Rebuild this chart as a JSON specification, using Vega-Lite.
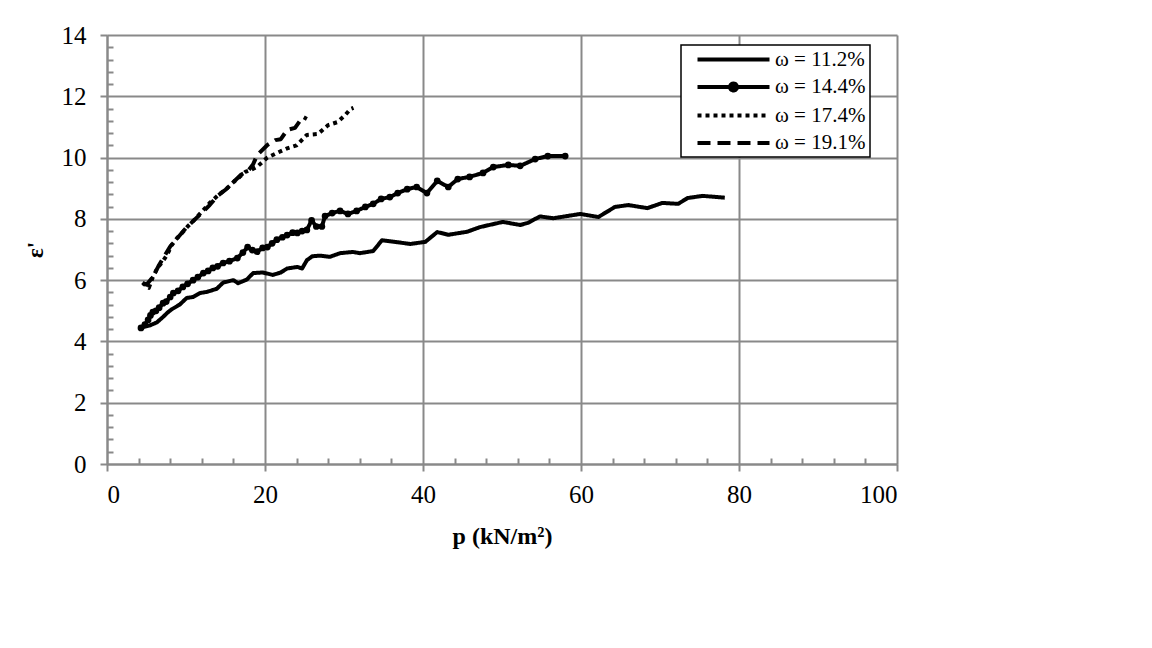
{
  "$schema": "https://vega.github.io/schema/vega-lite/v6.json",
  "width": 790,
  "height": 429,
  "autosize": {"type": "none"},
  "padding": {"left": 107, "top": 35, "right": 255, "bottom": 184},
  "background": "white",
  "config": {
    "view": {"stroke": null},
    "font": "Liberation Serif",
    "axis": {
      "labelFont": "Liberation Serif",
      "labelFontSize": 25,
      "labelColor": "black",
      "titleFont": "Liberation Serif",
      "titleColor": "black",
      "domainColor": "#898989",
      "domainWidth": 2,
      "tickColor": "#898989",
      "tickWidth": 2,
      "gridColor": "#898989",
      "gridWidth": 2
    }
  },
  "data": {
    "values": [
      {"series": "ω = 11.2%", "p": 4.6, "e": 4.47},
      {"series": "ω = 11.2%", "p": 5.4, "e": 4.52},
      {"series": "ω = 11.2%", "p": 6.3, "e": 4.62},
      {"series": "ω = 11.2%", "p": 7.1, "e": 4.8},
      {"series": "ω = 11.2%", "p": 7.7, "e": 4.95},
      {"series": "ω = 11.2%", "p": 8.2, "e": 5.05},
      {"series": "ω = 11.2%", "p": 9.2, "e": 5.2},
      {"series": "ω = 11.2%", "p": 9.6, "e": 5.3},
      {"series": "ω = 11.2%", "p": 10.1, "e": 5.42},
      {"series": "ω = 11.2%", "p": 10.9, "e": 5.45},
      {"series": "ω = 11.2%", "p": 11.8, "e": 5.58},
      {"series": "ω = 11.2%", "p": 12.7, "e": 5.62},
      {"series": "ω = 11.2%", "p": 13.9, "e": 5.72},
      {"series": "ω = 11.2%", "p": 14.7, "e": 5.92},
      {"series": "ω = 11.2%", "p": 16.0, "e": 6.0},
      {"series": "ω = 11.2%", "p": 16.6, "e": 5.9},
      {"series": "ω = 11.2%", "p": 17.7, "e": 6.02},
      {"series": "ω = 11.2%", "p": 18.5, "e": 6.23},
      {"series": "ω = 11.2%", "p": 19.7, "e": 6.25},
      {"series": "ω = 11.2%", "p": 21.0, "e": 6.17},
      {"series": "ω = 11.2%", "p": 22.0, "e": 6.25},
      {"series": "ω = 11.2%", "p": 22.8, "e": 6.38},
      {"series": "ω = 11.2%", "p": 24.1, "e": 6.43},
      {"series": "ω = 11.2%", "p": 24.7, "e": 6.38},
      {"series": "ω = 11.2%", "p": 25.3, "e": 6.65},
      {"series": "ω = 11.2%", "p": 26.0, "e": 6.78},
      {"series": "ω = 11.2%", "p": 27.0, "e": 6.8},
      {"series": "ω = 11.2%", "p": 28.2, "e": 6.76},
      {"series": "ω = 11.2%", "p": 29.5, "e": 6.88},
      {"series": "ω = 11.2%", "p": 31.1, "e": 6.92},
      {"series": "ω = 11.2%", "p": 32.0, "e": 6.88},
      {"series": "ω = 11.2%", "p": 33.7, "e": 6.95},
      {"series": "ω = 11.2%", "p": 34.8, "e": 7.3},
      {"series": "ω = 11.2%", "p": 36.7, "e": 7.24},
      {"series": "ω = 11.2%", "p": 38.4, "e": 7.18},
      {"series": "ω = 11.2%", "p": 40.3, "e": 7.25},
      {"series": "ω = 11.2%", "p": 41.8, "e": 7.57},
      {"series": "ω = 11.2%", "p": 43.2, "e": 7.48},
      {"series": "ω = 11.2%", "p": 45.6, "e": 7.58},
      {"series": "ω = 11.2%", "p": 47.2, "e": 7.73},
      {"series": "ω = 11.2%", "p": 50.1, "e": 7.9},
      {"series": "ω = 11.2%", "p": 52.3, "e": 7.8},
      {"series": "ω = 11.2%", "p": 53.3, "e": 7.87},
      {"series": "ω = 11.2%", "p": 54.8, "e": 8.08},
      {"series": "ω = 11.2%", "p": 56.5, "e": 8.02},
      {"series": "ω = 11.2%", "p": 59.9, "e": 8.16},
      {"series": "ω = 11.2%", "p": 62.2, "e": 8.06},
      {"series": "ω = 11.2%", "p": 64.3, "e": 8.39},
      {"series": "ω = 11.2%", "p": 66.0, "e": 8.45},
      {"series": "ω = 11.2%", "p": 68.4, "e": 8.35},
      {"series": "ω = 11.2%", "p": 70.3, "e": 8.52},
      {"series": "ω = 11.2%", "p": 72.3, "e": 8.49},
      {"series": "ω = 11.2%", "p": 73.5, "e": 8.68},
      {"series": "ω = 11.2%", "p": 75.4, "e": 8.75},
      {"series": "ω = 11.2%", "p": 78.2, "e": 8.69},

      {"series": "ω = 14.4%", "p": 4.3, "e": 4.44},
      {"series": "ω = 14.4%", "p": 4.8, "e": 4.55},
      {"series": "ω = 14.4%", "p": 5.2, "e": 4.7},
      {"series": "ω = 14.4%", "p": 5.5, "e": 4.85},
      {"series": "ω = 14.4%", "p": 5.8, "e": 4.96},
      {"series": "ω = 14.4%", "p": 6.2, "e": 5.0},
      {"series": "ω = 14.4%", "p": 6.6, "e": 5.1},
      {"series": "ω = 14.4%", "p": 7.1, "e": 5.25},
      {"series": "ω = 14.4%", "p": 7.5, "e": 5.3},
      {"series": "ω = 14.4%", "p": 8.0, "e": 5.45},
      {"series": "ω = 14.4%", "p": 8.4, "e": 5.58},
      {"series": "ω = 14.4%", "p": 9.0, "e": 5.65},
      {"series": "ω = 14.4%", "p": 9.6, "e": 5.78},
      {"series": "ω = 14.4%", "p": 10.2, "e": 5.88},
      {"series": "ω = 14.4%", "p": 10.9, "e": 6.0},
      {"series": "ω = 14.4%", "p": 11.5, "e": 6.1},
      {"series": "ω = 14.4%", "p": 12.2, "e": 6.23},
      {"series": "ω = 14.4%", "p": 12.8, "e": 6.3},
      {"series": "ω = 14.4%", "p": 13.4, "e": 6.4},
      {"series": "ω = 14.4%", "p": 14.0, "e": 6.45},
      {"series": "ω = 14.4%", "p": 14.7, "e": 6.56},
      {"series": "ω = 14.4%", "p": 15.5, "e": 6.62},
      {"series": "ω = 14.4%", "p": 16.5, "e": 6.72},
      {"series": "ω = 14.4%", "p": 17.2, "e": 6.9},
      {"series": "ω = 14.4%", "p": 17.8, "e": 7.08},
      {"series": "ω = 14.4%", "p": 18.4, "e": 6.98},
      {"series": "ω = 14.4%", "p": 19.0, "e": 6.93},
      {"series": "ω = 14.4%", "p": 19.7, "e": 7.05},
      {"series": "ω = 14.4%", "p": 20.3, "e": 7.08},
      {"series": "ω = 14.4%", "p": 20.9, "e": 7.2},
      {"series": "ω = 14.4%", "p": 21.5, "e": 7.32},
      {"series": "ω = 14.4%", "p": 22.2, "e": 7.4},
      {"series": "ω = 14.4%", "p": 22.8, "e": 7.47},
      {"series": "ω = 14.4%", "p": 23.5, "e": 7.55},
      {"series": "ω = 14.4%", "p": 24.1, "e": 7.54},
      {"series": "ω = 14.4%", "p": 24.7, "e": 7.6},
      {"series": "ω = 14.4%", "p": 25.3, "e": 7.64},
      {"series": "ω = 14.4%", "p": 25.9, "e": 7.95},
      {"series": "ω = 14.4%", "p": 26.5, "e": 7.75},
      {"series": "ω = 14.4%", "p": 27.2, "e": 7.75},
      {"series": "ω = 14.4%", "p": 27.6, "e": 8.09},
      {"series": "ω = 14.4%", "p": 28.5, "e": 8.19},
      {"series": "ω = 14.4%", "p": 29.5, "e": 8.26},
      {"series": "ω = 14.4%", "p": 30.5, "e": 8.16},
      {"series": "ω = 14.4%", "p": 31.6, "e": 8.26},
      {"series": "ω = 14.4%", "p": 32.7, "e": 8.39},
      {"series": "ω = 14.4%", "p": 33.7, "e": 8.49},
      {"series": "ω = 14.4%", "p": 34.7, "e": 8.65},
      {"series": "ω = 14.4%", "p": 35.8, "e": 8.71},
      {"series": "ω = 14.4%", "p": 36.8, "e": 8.84},
      {"series": "ω = 14.4%", "p": 38.0, "e": 8.97},
      {"series": "ω = 14.4%", "p": 39.2, "e": 9.04},
      {"series": "ω = 14.4%", "p": 40.5, "e": 8.84},
      {"series": "ω = 14.4%", "p": 41.8, "e": 9.24},
      {"series": "ω = 14.4%", "p": 43.2, "e": 9.04},
      {"series": "ω = 14.4%", "p": 44.4, "e": 9.3},
      {"series": "ω = 14.4%", "p": 45.9, "e": 9.37},
      {"series": "ω = 14.4%", "p": 47.6, "e": 9.5},
      {"series": "ω = 14.4%", "p": 48.9, "e": 9.69},
      {"series": "ω = 14.4%", "p": 50.8, "e": 9.76},
      {"series": "ω = 14.4%", "p": 52.3, "e": 9.73},
      {"series": "ω = 14.4%", "p": 54.2, "e": 9.95},
      {"series": "ω = 14.4%", "p": 55.8, "e": 10.05},
      {"series": "ω = 14.4%", "p": 58.0, "e": 10.05},

      {"series": "ω = 17.4%", "p": 4.5, "e": 5.92},
      {"series": "ω = 17.4%", "p": 5.0, "e": 5.8},
      {"series": "ω = 17.4%", "p": 5.3, "e": 5.75},
      {"series": "ω = 17.4%", "p": 5.8, "e": 6.1},
      {"series": "ω = 17.4%", "p": 6.4, "e": 6.4},
      {"series": "ω = 17.4%", "p": 7.0, "e": 6.59},
      {"series": "ω = 17.4%", "p": 7.6, "e": 6.82},
      {"series": "ω = 17.4%", "p": 8.2, "e": 7.15},
      {"series": "ω = 17.4%", "p": 8.9, "e": 7.38},
      {"series": "ω = 17.4%", "p": 9.6, "e": 7.57},
      {"series": "ω = 17.4%", "p": 10.2, "e": 7.75},
      {"series": "ω = 17.4%", "p": 10.8, "e": 7.9},
      {"series": "ω = 17.4%", "p": 11.4, "e": 8.06},
      {"series": "ω = 17.4%", "p": 12.2, "e": 8.29},
      {"series": "ω = 17.4%", "p": 13.0, "e": 8.52},
      {"series": "ω = 17.4%", "p": 14.1, "e": 8.78},
      {"series": "ω = 17.4%", "p": 15.2, "e": 9.0},
      {"series": "ω = 17.4%", "p": 16.0, "e": 9.2},
      {"series": "ω = 17.4%", "p": 16.8, "e": 9.37},
      {"series": "ω = 17.4%", "p": 17.5, "e": 9.53},
      {"series": "ω = 17.4%", "p": 18.4, "e": 9.62},
      {"series": "ω = 17.4%", "p": 19.0, "e": 9.7},
      {"series": "ω = 17.4%", "p": 20.3, "e": 10.0},
      {"series": "ω = 17.4%", "p": 21.5, "e": 10.15},
      {"series": "ω = 17.4%", "p": 22.8, "e": 10.3},
      {"series": "ω = 17.4%", "p": 24.0, "e": 10.4},
      {"series": "ω = 17.4%", "p": 25.3, "e": 10.74},
      {"series": "ω = 17.4%", "p": 26.7, "e": 10.77},
      {"series": "ω = 17.4%", "p": 28.0, "e": 11.06},
      {"series": "ω = 17.4%", "p": 29.2, "e": 11.16},
      {"series": "ω = 17.4%", "p": 30.2, "e": 11.4},
      {"series": "ω = 17.4%", "p": 30.8, "e": 11.58},
      {"series": "ω = 17.4%", "p": 31.2, "e": 11.62},

      {"series": "ω = 19.1%", "p": 4.5, "e": 5.9},
      {"series": "ω = 19.1%", "p": 5.0, "e": 5.85},
      {"series": "ω = 19.1%", "p": 5.8, "e": 6.1},
      {"series": "ω = 19.1%", "p": 6.5, "e": 6.45},
      {"series": "ω = 19.1%", "p": 7.3, "e": 6.8},
      {"series": "ω = 19.1%", "p": 8.0, "e": 7.1},
      {"series": "ω = 19.1%", "p": 9.0, "e": 7.4},
      {"series": "ω = 19.1%", "p": 10.0, "e": 7.7},
      {"series": "ω = 19.1%", "p": 11.0, "e": 7.95},
      {"series": "ω = 19.1%", "p": 12.0, "e": 8.2},
      {"series": "ω = 19.1%", "p": 13.0, "e": 8.45},
      {"series": "ω = 19.1%", "p": 14.0, "e": 8.75},
      {"series": "ω = 19.1%", "p": 15.0, "e": 8.95},
      {"series": "ω = 19.1%", "p": 16.0, "e": 9.2},
      {"series": "ω = 19.1%", "p": 17.0, "e": 9.45},
      {"series": "ω = 19.1%", "p": 17.8, "e": 9.55},
      {"series": "ω = 19.1%", "p": 18.5, "e": 9.78},
      {"series": "ω = 19.1%", "p": 19.0, "e": 10.08},
      {"series": "ω = 19.1%", "p": 20.3, "e": 10.41},
      {"series": "ω = 19.1%", "p": 21.3, "e": 10.57},
      {"series": "ω = 19.1%", "p": 22.0, "e": 10.6},
      {"series": "ω = 19.1%", "p": 22.8, "e": 10.9},
      {"series": "ω = 19.1%", "p": 23.8, "e": 10.97},
      {"series": "ω = 19.1%", "p": 24.8, "e": 11.33},
      {"series": "ω = 19.1%", "p": 25.3, "e": 11.26}
    ]
  },
  "resolve": {"axis": {"x": "independent", "y": "independent"}},
  "layer": [
    {
      "mark": {"type": "line", "strokeWidth": 4, "color": "black", "strokeCap": "butt", "strokeJoin": "round"},
      "encoding": {
        "x": {
          "field": "p", "type": "quantitative",
          "scale": {"domain": [0, 100], "nice": false, "zero": true},
          "axis": {
            "orient": "bottom",
            "values": [0, 20, 40, 60, 80, 100],
            "tickSize": 7,
            "labelPadding": 11,
            "grid": true,
            "title": "p (kN/m²)",
            "titleFontSize": 24,
            "titleFontWeight": "bold",
            "titlePadding": 17
          }
        },
        "y": {
          "field": "e", "type": "quantitative",
          "scale": {"domain": [0, 14], "nice": false},
          "axis": {
            "orient": "left",
            "values": [0, 2, 4, 6, 8, 10, 12, 14],
            "tickSize": 7,
            "labelPadding": 14,
            "grid": true,
            "title": "ε'",
            "titleFontSize": 23,
            "titleFontWeight": "bold",
            "titlePadding": 14
          }
        },
        "detail": {"field": "series"},
        "strokeDash": {
          "field": "series", "type": "nominal",
          "scale": {
            "domain": ["ω = 11.2%", "ω = 14.4%", "ω = 17.4%", "ω = 19.1%"],
            "range": [[1, 0], [1, 0], [4, 4], [13, 7]]
          },
          "legend": {
            "orient": "none",
            "legendX": 574,
            "legendY": 10,
            "title": null,
            "fillColor": "white",
            "strokeColor": "black",
            "padding": 4,
            "cornerRadius": 0,
            "symbolType": "M-7.2,0L7.2,0",
            "symbolSize": 100,
            "symbolOffset": 38,
            "symbolStrokeWidth": 4,
            "symbolStrokeColor": "black",
            "labelFont": "Liberation Serif",
            "labelFontSize": 21,
            "labelColor": "black",
            "labelOffset": 31,
            "rowPadding": 5.5,
            "encode": {
              "legend": {"update": {"strokeWidth": {"value": 1.5}}},
              "symbols": {
                "update": {
                  "shape": {"signal": "datum.value === 'ω = 14.4%' ? 'M-7.2,0L7.2,0M0.7,0A0.7,0.7,0,1,1,-0.7,0A0.7,0.7,0,1,1,0.7,0Z' : 'M-7.2,0L7.2,0'"},
                  "fill": {"signal": "datum.value === 'ω = 14.4%' ? 'black' : 'transparent'"},
                  "stroke": {"value": "black"},
                  "strokeWidth": {"value": 4},
                  "opacity": {"value": 1}
                }
              }
            }
          }
        }
      }
    },
    {
      "transform": [{"filter": "datum.series === 'ω = 14.4%'"}],
      "mark": {"type": "point", "filled": true, "shape": "circle", "size": 45, "color": "black", "opacity": 1},
      "encoding": {
        "x": {
          "field": "p", "type": "quantitative",
          "axis": {
            "orient": "bottom",
            "values": [4, 8, 12, 16, 24, 28, 32, 36, 44, 48, 52, 56, 64, 68, 72, 76, 84, 88, 92, 96],
            "tickSize": -6,
            "labels": false,
            "domain": false,
            "grid": false,
            "title": null
          }
        },
        "y": {
          "field": "e", "type": "quantitative",
          "axis": {
            "orient": "left",
            "values": [0.4, 0.8, 1.2, 1.6, 2.4, 2.8, 3.2, 3.6, 4.4, 4.8, 5.2, 5.6, 6.4, 6.8, 7.2, 7.6, 8.4, 8.8, 9.2, 9.6, 10.4, 10.8, 11.2, 11.6, 12.4, 12.8, 13.2, 13.6],
            "tickSize": -6,
            "labels": false,
            "domain": false,
            "grid": false,
            "title": null
          }
        }
      }
    }
  ]
}
